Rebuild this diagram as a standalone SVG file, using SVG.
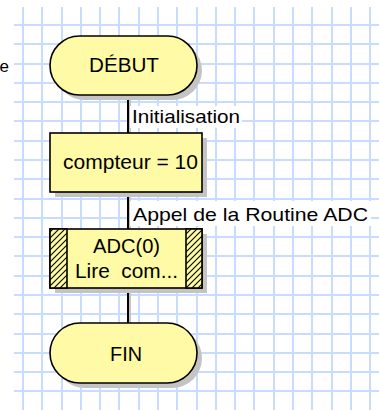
<svg xmlns="http://www.w3.org/2000/svg" width="379" height="410" viewBox="0 0 379 410">
<style>
.grid{stroke:#c8dcff;stroke-width:2;fill:none}
.node{fill:#fffaa5;stroke:#000;stroke-width:1.6}
.shadow{fill:#c4c4c4;stroke:none}
.t{font-family:"Liberation Sans",Arial,sans-serif;font-size:20px;fill:#000}
.lbl{font-family:"Liberation Sans",Arial,sans-serif;font-size:19px;fill:#000}
.conn{stroke:#000;stroke-width:2;fill:none}
.connsh{stroke:#c4c4c4;stroke-width:2;fill:none}
.lblbg{fill:#fff}
</style>
<defs>
<pattern id="hatch" patternUnits="userSpaceOnUse" width="6" height="6">
<rect width="6" height="6" fill="#fffaa5"/>
<path d="M0,6 L6,0 M-1,1 L1,-1 M5,7 L7,5" stroke="#000" stroke-width="1.1"/>
</pattern>
</defs>
<rect width="379" height="410" fill="#fff"/>
<g id="grid">
<path class="grid" d="M23,7V410M42,7V410M62,7V410M81,7V410M100,7V410M119,7V410M139,7V410M158,7V410M177,7V410M197,7V410M216,7V410M235,7V410M254,7V410M274,7V410M293,7V410M312,7V410M332,7V410M351,7V410M370,7V410"/>
<path class="grid" d="M14,25H379M14,44H379M14,64H379M14,83H379M14,102H379M14,121H379M14,141H379M14,160H379M14,179H379M14,199H379M14,218H379M14,237H379M14,256H379M14,276H379M14,295H379M14,314H379M14,334H379M14,353H379M14,372H379M14,391H379"/>
</g>
<text class="t" x="-0.5" y="72" style="font-size:17px">e</text>
<g id="connectors">
<path class="connsh" d="M130,95V133M130,192V229M130,288V323"/>
<path class="conn" d="M128,95V133M128,192V229M128,288V323"/>
<rect class="lblbg" x="130" y="106" width="112" height="22"/>
<text class="lbl" x="132" y="123" textLength="108" lengthAdjust="spacingAndGlyphs">Initialisation</text>
<rect class="lblbg" x="130" y="201" width="241" height="25"/>
<text class="lbl" x="133" y="221" textLength="235" lengthAdjust="spacingAndGlyphs">Appel de la Routine ADC</text>
</g>
<g id="debut">
<rect class="shadow" x="55" y="41" width="147" height="59" rx="29.5"/>
<rect class="node" x="50" y="36" width="147" height="59" rx="29.5"/>
<text class="t" x="124" y="72" text-anchor="middle" textLength="70" lengthAdjust="spacingAndGlyphs">DÉBUT</text>
</g>
<g id="compteur">
<rect class="shadow" x="55" y="138" width="152" height="59"/>
<rect class="node" x="50" y="133" width="152" height="59"/>
<text class="t" x="63" y="168.5" textLength="135" lengthAdjust="spacingAndGlyphs">compteur = 10</text>
</g>
<g id="adc">
<rect class="shadow" x="55" y="234" width="152" height="59"/>
<rect class="node" x="50" y="229" width="152" height="59"/>
<rect x="50" y="229" width="17" height="59" fill="url(#hatch)" stroke="#000" stroke-width="1.6"/>
<rect x="186" y="229" width="16" height="59" fill="url(#hatch)" stroke="#000" stroke-width="1.6"/>
<text class="t" x="126.5" y="253" text-anchor="middle" textLength="67" lengthAdjust="spacingAndGlyphs">ADC(0)</text>
<text class="t" x="75" y="278" textLength="103" lengthAdjust="spacingAndGlyphs" xml:space="preserve">Lire  com...</text>
</g>
<g id="fin">
<rect class="shadow" x="55" y="328" width="147" height="60" rx="30"/>
<rect class="node" x="50" y="323" width="147" height="60" rx="30"/>
<text class="t" x="126" y="361" text-anchor="middle" textLength="32" lengthAdjust="spacingAndGlyphs">FIN</text>
</g>
</svg>
